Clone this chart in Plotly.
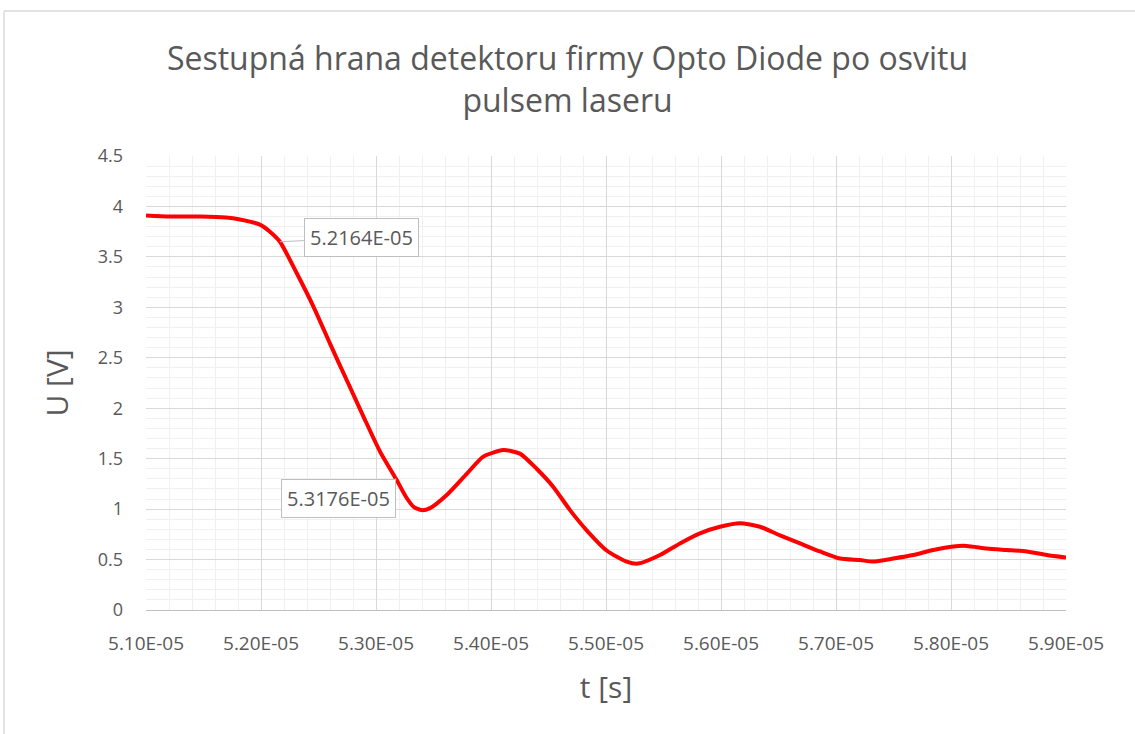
import plotly.graph_objects as go

# hodnoty (čas v mikrosekundách, napětí ve voltech)
t_us = [51.000, 51.209, 51.470, 51.696, 51.817, 51.991, 52.078, 52.165, 52.310,
        52.455, 52.600, 52.745, 52.890, 53.035, 53.174, 53.267, 53.330, 53.397,
        53.470, 53.615, 53.789, 53.933, 54.107, 54.252, 54.397, 54.542, 54.687,
        54.832, 55.006, 55.180, 55.278, 55.470, 55.643, 55.817, 55.991, 56.165,
        56.339, 56.513, 56.687, 56.861, 57.035, 57.209, 57.324, 57.498, 57.672,
        57.846, 58.020, 58.137, 58.311, 58.484, 58.658, 58.833, 59.000]
u_v = [3.91, 3.90, 3.90, 3.89, 3.87, 3.82, 3.75, 3.65, 3.34,
       3.01, 2.64, 2.28, 1.92, 1.57, 1.30, 1.11, 1.02, 0.99,
       1.01, 1.14, 1.35, 1.52, 1.585, 1.55, 1.40, 1.22, 0.99,
       0.79, 0.59, 0.48, 0.46, 0.545, 0.66, 0.76, 0.825, 0.86,
       0.825, 0.74, 0.66, 0.58, 0.51, 0.495, 0.48, 0.51, 0.545,
       0.595, 0.63, 0.635, 0.61, 0.595, 0.58, 0.545, 0.52]

tick_vals = [5.1e-05, 5.2e-05, 5.3e-05, 5.4e-05, 5.5e-05, 5.6e-05, 5.7e-05, 5.8e-05, 5.9e-05]
tick_text = ['5.10E-05', '5.20E-05', '5.30E-05', '5.40E-05', '5.50E-05',
             '5.60E-05', '5.70E-05', '5.80E-05', '5.90E-05']

label_t = [5.2164e-05, 5.3176e-05]
label_u = [3.65, 1.30]
label_text = ['5.2164E-05', '5.3176E-05']

t_s = [v * 1e-6 for v in t_us]

FONT = 'Open Sans'
GRAY = '#595959'

fig = go.Figure()
fig.add_trace(go.Scatter(x=t_s, y=u_v, mode='lines',
                         line=dict(color='#ff0000', width=4, shape='spline', smoothing=0.6),
                         hoverinfo='x+y', showlegend=False))

offsets = [(82, -4), (-58, 20)]
for tx, uy, txt, (ax, ay) in zip(label_t, label_u, label_text, offsets):
    fig.add_annotation(x=tx, y=uy, text=txt, showarrow=True, arrowhead=0,
                       arrowwidth=1, arrowcolor='#bfbfbf', ax=ax, ay=ay,
                       font=dict(family=FONT, size=20, color=GRAY),
                       bgcolor='white', bordercolor='#bfbfbf', borderwidth=1,
                       borderpad=5)

# rámeček grafu
fig.add_shape(type='line', xref='paper', yref='paper', x0=-0.1543, x1=-0.1543,
              y0=1.3194, y1=-0.3, line=dict(color='#d9d9d9', width=1.5))
fig.add_shape(type='line', xref='paper', yref='paper', x0=-0.1543, x1=1.1,
              y0=1.3194, y1=1.3194, line=dict(color='#d9d9d9', width=1.5))

fig.update_layout(
    width=1135, height=734,
    margin=dict(l=146, r=69, t=156, b=124),
    paper_bgcolor='white', plot_bgcolor='white',
    title=dict(text='Sestupná hrana detektoru firmy Opto Diode po osvitu<br>pulsem laseru',
               x=0.5, xanchor='center', y=0.904, yanchor='top',
               font=dict(family=FONT, size=32, color=GRAY)),
    font=dict(family=FONT, color=GRAY),
)

fig.update_xaxes(range=[5.1e-05, 5.9e-05], tickmode='array', tickvals=tick_vals,
                 ticktext=tick_text, tickfont=dict(size=19, color=GRAY),
                 showgrid=True, gridcolor='#d9d9d9', gridwidth=1,
                 minor=dict(tickmode='linear', tick0=5.1e-05, dtick=2e-07,
                            showgrid=True, gridcolor='#f0f0f0', gridwidth=1),
                 showline=True, linecolor='#bfbfbf', linewidth=1,
                 zeroline=False, ticks='', ticklabelstandoff=16,
                 title=dict(text='t [s]', font=dict(size=30, color=GRAY), standoff=22))

fig.update_yaxes(range=[0, 4.5], dtick=0.5, tickfont=dict(size=18, color=GRAY),
                 showgrid=True, gridcolor='#d9d9d9', gridwidth=1,
                 minor=dict(dtick=0.1, showgrid=True, gridcolor='#f0f0f0', gridwidth=1),
                 showline=False, zeroline=False, ticks='', ticklabelstandoff=22,
                 title=dict(text='U [V]', font=dict(size=30, color=GRAY), standoff=20))

fig.write_html("out.html", config={'displayModeBar': False},
               post_script="document.body.style.margin='0px';")
